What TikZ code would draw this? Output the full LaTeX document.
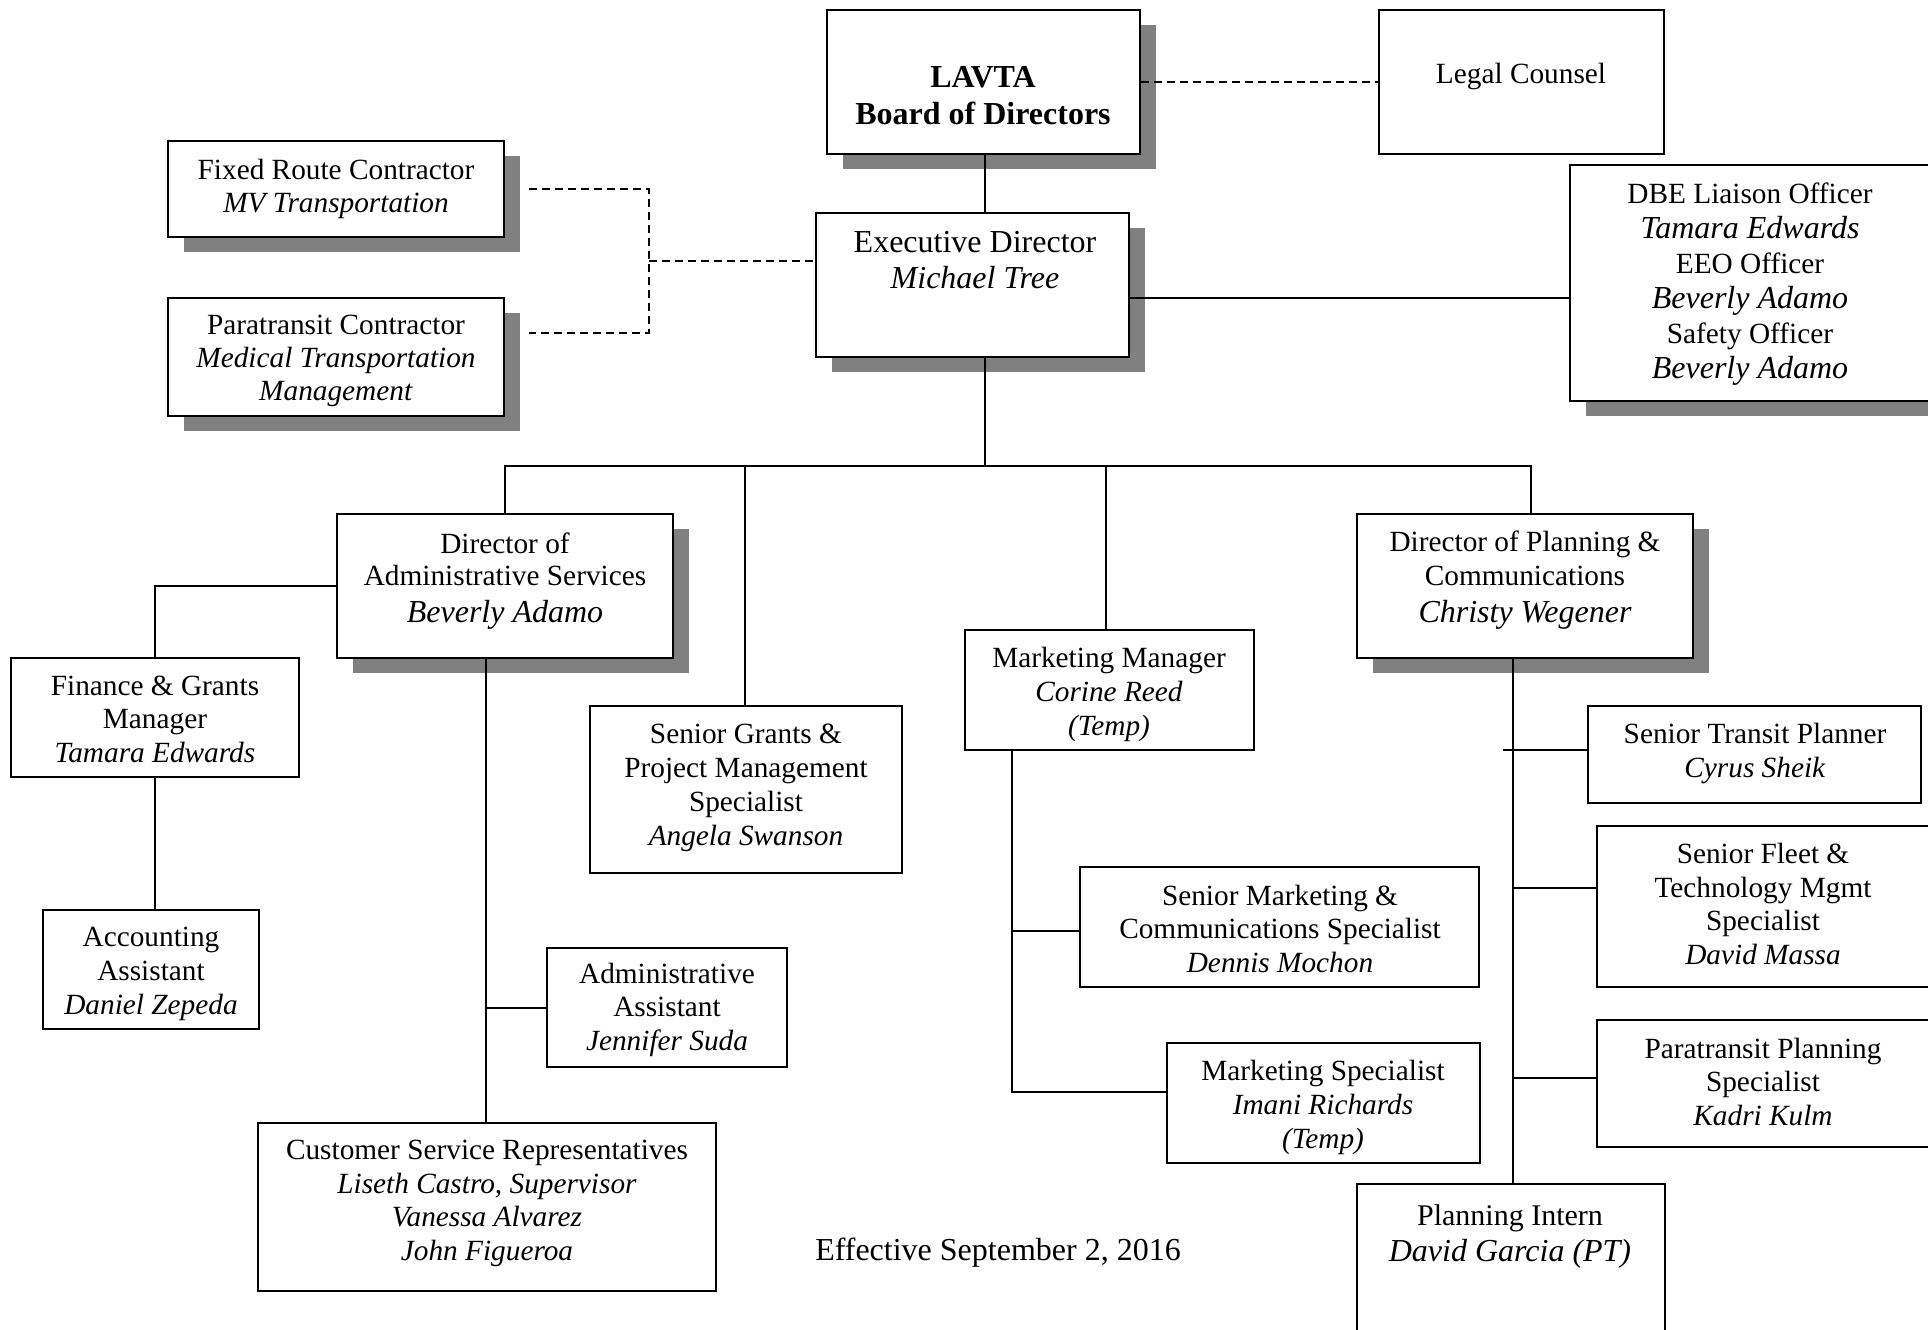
\documentclass[tikz,border=0pt]{standalone}
\usepackage{fontspec}
\setmainfont{Liberation Serif}
\usetikzlibrary{fit,shadows}
\definecolor{shadowgray}{RGB}{128,128,128}
\newcommand\bigname[1]{{\fontsize{16}{18.5}\selectfont\itshape #1}}
\begin{document}
\begin{tikzpicture}[x=0.5pt,y=-0.5pt,
  box/.style={draw, line width=1.1pt, fill=white, inner sep=0pt},
  sbox/.style={box, drop shadow={shadow xshift=8pt, shadow yshift=-7.5pt, fill=shadowgray, opacity=1}},
  txt/.style={align=center, anchor=base, inner sep=0pt, font=\fontsize{14.65}{16.75}\selectfont},
  conn/.style={line width=1.1pt},
  dconn/.style={line width=1.1pt, dash pattern=on 4pt off 2.5pt},
]
\useasboundingbox (0,0) rectangle (1928,1329);
\clip (0,0) rectangle (1928,1329);

% boxes
\node[sbox, fit={(827,10) (1140,154)}] (board) {};
\node[box, fit={(1379,10) (1664,154)}] (legal) {};
\node[sbox, fit={(168,141) (504,237)}] (fixed) {};
\node[sbox, fit={(168,298) (504,416)}] (pcon) {};
\node[sbox, fit={(816,213) (1129,357)}] (exec) {};
\node[sbox, fit={(1570,165) (1945,401)}] (dbe) {};
\node[sbox, fit={(337,514) (673,658)}] (diradm) {};
\node[sbox, fit={(1357,514) (1693,658)}] (dirplan) {};
\node[box, fit={(965,630) (1254,750)}] (mktmgr) {};
\node[box, fit={(11,658) (299,777)}] (finance) {};
\node[box, fit={(590,706) (902,873)}] (sgrants) {};
\node[box, fit={(43,910) (259,1029)}] (acct) {};
\node[box, fit={(547,948) (787,1067)}] (adminasst) {};
\node[box, fit={(258,1123) (716,1291)}] (csr) {};
\node[box, fit={(1080,867) (1479,987)}] (smkt) {};
\node[box, fit={(1167,1043) (1480,1163)}] (mktspec) {};
\node[box, fit={(1588,706) (1921,803)}] (stp) {};
\node[box, fit={(1597,826) (1945,987)}] (fleet) {};
\node[box, fit={(1597,1020) (1945,1147)}] (pplan) {};
\node[box, fit={(1357,1184) (1665,1345)}] (intern) {};

% texts (anchored at the baseline of their last line)
\node[txt, font=\fontsize{16}{18.5}\selectfont\bfseries] (boardt) at (983,124) {LAVTA\\Board of Directors};
\node[txt] (legalt) at (1521,83) {Legal Counsel};
\node[txt, font=\fontsize{14.65}{16.5}\selectfont] (fixedt) at (336,212) {Fixed Route Contractor\\\textit{MV Transportation}};
\node[txt, font=\fontsize{14.65}{16.5}\selectfont] (pcont) at (336,400) {Paratransit Contractor\\\textit{Medical Transportation}\\\textit{Management}};
\node[txt, font=\fontsize{16}{18}\selectfont] (exect) at (975,288) {Executive Director\\\textit{Michael Tree}};
\node[txt, font=\fontsize{14.65}{17.5}\selectfont] (dbet) at (1750,378) {DBE Liaison Officer\\\bigname{Tamara Edwards}\\EEO Officer\\\bigname{Beverly Adamo}\\Safety Officer\\\bigname{Beverly Adamo}};
\node[txt, font=\fontsize{14.65}{16}\selectfont] (diradmt) at (505,622) {Director of\\Administrative Services\\[2.5pt]\bigname{Beverly Adamo}};
\node[txt] (dirplant) at (1525,622) {Director of Planning \&\\Communications\\[1.75pt]\bigname{Christy Wegener}};
\node[txt, font=\fontsize{14.65}{17}\selectfont] (mktmgrt) at (1109,735) {Marketing Manager\\\textit{Corine Reed}\\\textit{(Temp)}};
\node[txt] (financet) at (155,762) {Finance \& Grants\\Manager\\\textit{Tamara Edwards}};
\node[txt, font=\fontsize{14.65}{17}\selectfont] (sgrantst) at (746,845) {Senior Grants \&\\Project Management\\Specialist\\\textit{Angela Swanson}};
\node[txt, font=\fontsize{14.65}{17}\selectfont] (acctt) at (151,1014) {Accounting\\Assistant\\\textit{Daniel Zepeda}};
\node[txt] (adminasstt) at (667,1050) {Administrative\\Assistant\\\textit{Jennifer Suda}};
\node[txt] (csrt) at (487,1260) {Customer Service Representatives\\\textit{Liseth Castro, Supervisor}\\\textit{Vanessa Alvarez}\\\textit{John Figueroa}};
\node[txt] (smktt) at (1280,972) {Senior Marketing \&\\Communications Specialist\\\textit{Dennis Mochon}};
\node[txt, font=\fontsize{14.65}{17}\selectfont] (mktspect) at (1323,1148) {Marketing Specialist\\\textit{Imani Richards}\\\textit{(Temp)}};
\node[txt, font=\fontsize{14.65}{17}\selectfont] (stpt) at (1755,777) {Senior Transit Planner\\\textit{Cyrus Sheik}};
\node[txt] (fleett) at (1763,964) {Senior Fleet \&\\Technology Mgmt\\Specialist\\\textit{David Massa}};
\node[txt] (pplant) at (1763,1125) {Paratransit Planning\\Specialist\\\textit{Kadri Kulm}};
\node[txt, font=\fontsize{15}{18}\selectfont] (internt) at (1510,1261) {Planning Intern\\\bigname{David Garcia (PT)}};
\node[txt, font=\fontsize{16}{18}\selectfont] (eff) at (998,1260) {Effective September 2, 2016};

% junction coordinates
\coordinate (trunk) at (985,466);
\coordinate (busR) at (1531,466);
\coordinate (sgdrop) at (745,466);
\coordinate (mkdrop) at (1106,466);
\coordinate (edb) at (1300,298);
\coordinate (fxs) at (529,189);
\coordinate (pcs) at (529,333);
\coordinate (dj) at (649,261);
\coordinate (admv) at (486,1008);
\coordinate (mkb1) at (1012,931);
\coordinate (mkb2) at (1012,1092);
\coordinate (pltick) at (1503,750);
\coordinate (pl1) at (1513,750);
\coordinate (pl2) at (1513,888);
\coordinate (pl3) at (1513,1078);

% solid connectors
\draw[conn] (board.south -| trunk) -- (exec.north -| trunk);
\draw[conn] (exec.south -| trunk) -- (trunk);
\draw[conn] (diradm.north) |- (busR) -- (busR |- dirplan.north);
\draw[conn] (sgdrop) -- (sgdrop |- sgrants.north);
\draw[conn] (mkdrop) -- (mkdrop |- mktmgr.north);
\draw[conn] (exec.east |- edb) -- (dbe.west |- edb);
\draw[conn] (diradm.west) -| (finance.north);
\draw[conn] (finance.south) -- (finance.south |- acct.north);
\draw[conn] (admv |- diradm.south) -- (admv |- csr.north);
\draw[conn] (admv) -- (admv -| adminasst.west);
\draw[conn] (mkb1 |- mktmgr.south) -- (mkb2) -- (mkb2 -| mktspec.west);
\draw[conn] (mkb1) -- (mkb1 -| smkt.west);
\draw[conn] (pl1 |- dirplan.south) -- (pl1 |- intern.north);
\draw[conn] (pltick) -- (pltick -| stp.west);
\draw[conn] (pl2) -- (pl2 -| fleet.west);
\draw[conn] (pl3) -- (pl3 -| pplan.west);

% dashed connectors
\draw[dconn] (board.east) -- (legal.west);
\draw[dconn] (fxs) -| (dj |- pcs) -- (pcs);
\draw[dconn] (dj) -- (dj -| exec.west);
\end{tikzpicture}
\end{document}
